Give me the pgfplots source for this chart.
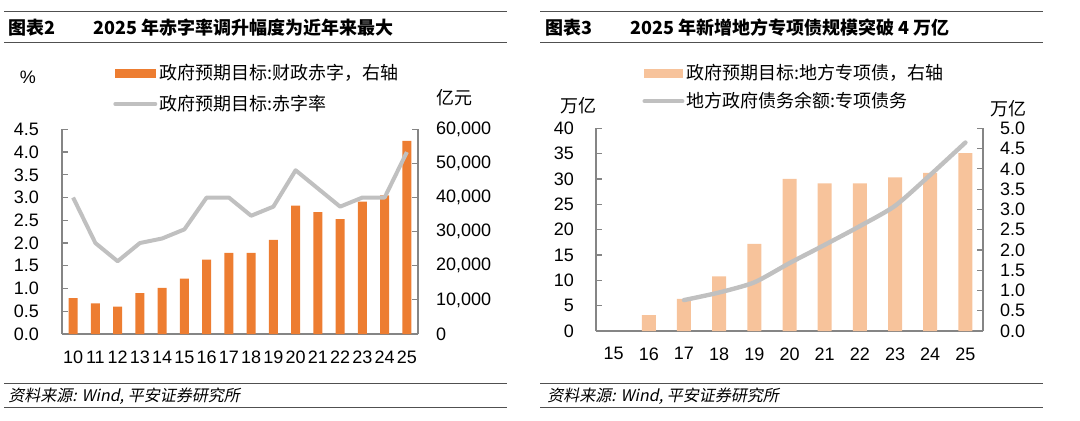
\documentclass[border=0pt]{standalone}
\usepackage{pgfplots}
\pgfplotsset{compat=1.18}
\usepackage{fontspec}
\setmainfont{Liberation Sans}
\newfontfamily\cjk{Noto Sans CJK SC}
\newfontfamily\cjkit[FakeSlant=0.2]{Noto Sans CJK SC}
\definecolor{barA}{HTML}{ED7D31}
\definecolor{barB}{HTML}{F7C39B}
\definecolor{lineG}{HTML}{C0C0C0}
\definecolor{axG}{HTML}{858585}
\definecolor{ruleG}{HTML}{505050}
\pgfplotsset{
  common/.style={
    scale only axis,
    /pgf/number format/assume math mode=true,
    tick label style={font=\fontsize{9}{10}\selectfont, text=black},
    axis line style={axG, line width=0.6pt},
    major tick style={axG, line width=0.6pt},
    minor tick style={axG, line width=0.6pt},
    major tick length=3pt,
    minor tick length=3pt,
    tick align=inside,
  }
}
\begin{document}
\begin{tikzpicture}
\path[use as bounding box] (0,0) rectangle (540pt,210pt);
% ---------------- Chart 2 ----------------
\begin{axis}[common,
  at={(31pt,43pt)}, anchor=south west,
  width=178pt, height=102.35pt,
  xmin=9.5, xmax=25.5,
  ymin=0, ymax=60000,
  axis x line*=bottom, axis y line*=right,
  xtick={10,...,25}, xticklabels={10,11,12,13,14,15,16,17,18,19,20,21,22,23,24,25},
  x tick style={draw=none},
  minor xtick={10.5,11.5,...,24.5},
  xticklabel style={yshift=-5pt},
  ytick={0,10000,...,60000},
  scaled y ticks=false,
  yticklabel style={/pgf/number format/1000 sep={,}, xshift=5.5pt},
]
\addplot[ybar, bar width=4.5pt, fill=barA, draw=none] coordinates {
(10,10500) (11,9000) (12,8000) (13,12000) (14,13500) (15,16200) (16,21800) (17,23800)
(18,23800) (19,27600) (20,37600) (21,35700) (22,33700) (23,38800) (24,40600) (25,56600)};
\end{axis}
\begin{axis}[common,
  at={(31pt,43pt)}, anchor=south west,
  width=178pt, height=102.35pt,
  xmin=9.5, xmax=25.5,
  ymin=0, ymax=4.5,
  axis x line=none, axis y line*=left,
  ytick={0,0.5,...,4.5},
  yticklabel style={/pgf/number format/fixed, /pgf/number format/fixed zerofill, /pgf/number format/precision=1, xshift=-8pt},
  legend style={draw=none, fill=none, at={(axis description cs:0.143,1.33)}, anchor=north west,
    inner sep=0pt, row sep=4.2pt, font=\cjk\fontsize{9}{10}\selectfont,
    nodes={inner sep=1pt}},
  legend cell align=left,
]
\addlegendimage{legend image code/.code={\fill[barA] (0pt,-2pt) rectangle (20pt,2pt);}}
\addlegendentry{政府预期目标:财政赤字，右轴}
\addplot[lineG, line width=2pt, line join=round,
  legend image code/.code={\draw[lineG, line width=2pt, line cap=round] (0pt,0pt) -- (20pt,0pt);}]
coordinates {
(10,3.0) (11,2.0) (12,1.6) (13,2.0) (14,2.1) (15,2.3) (16,3.0) (17,3.0)
(18,2.6) (19,2.8) (20,3.6) (21,3.2) (22,2.8) (23,3.0) (24,3.0) (25,4.0)};
\addlegendentry{政府预期目标:赤字率}
\end{axis}
% ---------------- Chart 3 ----------------
\begin{axis}[common,
  at={(298pt,44.5pt)}, anchor=south west,
  width=193.5pt, height=101.35pt,
  xmin=14.5, xmax=25.5,
  ymin=0, ymax=5,
  axis x line*=bottom, axis y line*=right,
  xtick={15,...,25}, xticklabels={15,16,17,18,19,20,21,22,23,24,25},
  x tick style={draw=none},
  minor xtick={15.5,16.5,...,24.5},
  minor x tick style={yshift=-3pt},
  xticklabel style={yshift=-4.75pt},
  ytick={0,0.5,...,5},
  yticklabel style={/pgf/number format/fixed, /pgf/number format/fixed zerofill, /pgf/number format/precision=1, xshift=5pt},
]
\addplot[ybar, bar width=7pt, fill=barB, draw=none] coordinates {
(16,0.39) (17,0.79) (18,1.35) (19,2.15) (20,3.75) (21,3.64) (22,3.64) (23,3.79) (24,3.9) (25,4.39)};
\end{axis}
\begin{axis}[common,
  at={(298pt,44.5pt)}, anchor=south west,
  width=193.5pt, height=101.35pt,
  xmin=14.5, xmax=25.5,
  ymin=0, ymax=40,
  axis x line=none, axis y line*=left,
  ytick={0,5,...,40},
  yticklabel style={xshift=-7.5pt},
  legend style={draw=none, fill=none, at={(axis description cs:0.119,1.327)}, anchor=north west,
    inner sep=0pt, row sep=2.7pt, font=\cjk\fontsize{9}{10}\selectfont,
    nodes={inner sep=1pt}},
  legend cell align=left,
]
\addlegendimage{legend image code/.code={\fill[barB] (0pt,-2pt) rectangle (19pt,2pt);}}
\addlegendentry{政府预期目标:地方专项债，右轴}
\addplot[lineG, line width=2.2pt, line cap=round, smooth, tension=0.4,
  legend image code/.code={\draw[lineG, line width=2pt, line cap=round] (0pt,0pt) -- (19pt,0pt);}]
coordinates {
(17,6.1) (18,7.6) (19,9.6) (20,13.4) (21,17.0) (22,20.7) (23,24.7) (24,30.8) (25,37.2)};
\addlegendentry{地方政府债务余额:专项债务}
\end{axis}
% ---------------- Text and rules ----------------
\draw[ruleG, line width=0.6pt] (2pt,204.15pt) -- (253.5pt,204.15pt);
\draw[ruleG, line width=0.6pt] (2pt,188.85pt) -- (253.5pt,188.85pt);
\draw[ruleG, line width=0.6pt] (2pt,18.35pt) -- (253.5pt,18.35pt);
\draw[ruleG, line width=0.6pt] (2pt,6.35pt) -- (253.5pt,6.35pt);
\draw[ruleG, line width=0.6pt] (270pt,204.15pt) -- (521.5pt,204.15pt);
\draw[ruleG, line width=0.6pt] (270pt,188.85pt) -- (521.5pt,188.85pt);
\draw[ruleG, line width=0.6pt] (270pt,18.35pt) -- (521.5pt,18.35pt);
\draw[ruleG, line width=0.6pt] (270pt,6.35pt) -- (521.5pt,6.35pt);
\node[anchor=west, inner sep=0pt, font=\cjk\bfseries\fontsize{9}{10}\selectfont] at (4pt,196.25pt) {图表2};
\node[anchor=west, inner sep=0pt, font=\cjk\bfseries\fontsize{9}{10}\selectfont] at (46.5pt,196.25pt) {2025 年赤字率调升幅度为近年来最大};
\node[anchor=west, inner sep=0pt, font=\cjk\bfseries\fontsize{9}{10}\selectfont] at (272.5pt,196.25pt) {图表3};
\node[anchor=west, inner sep=0pt, font=\cjk\bfseries\fontsize{9}{10}\selectfont] at (315pt,196.25pt) {2025 年新增地方专项债规模突破 4 万亿};
\node[inner sep=0pt, font=\fontsize{9}{10}\selectfont] at (14pt,171.5pt) {\%};
\node[inner sep=0pt, font=\cjk\fontsize{9}{10}\selectfont] at (227pt,161.25pt) {亿元};
\node[inner sep=0pt, font=\cjk\fontsize{9}{10}\selectfont] at (289pt,157pt) {万亿};
\node[inner sep=0pt, font=\cjk\fontsize{9}{10}\selectfont] at (504pt,155.5pt) {万亿};
\node[anchor=west, inner sep=0pt, font=\cjkit\fontsize{8}{9}\selectfont] at (4pt,12pt) {资料来源: Wind, 平安证券研究所};
\node[anchor=west, inner sep=0pt, font=\cjkit\fontsize{8}{9}\selectfont] at (273.5pt,12pt) {资料来源: Wind, 平安证券研究所};
\end{tikzpicture}
\end{document}
